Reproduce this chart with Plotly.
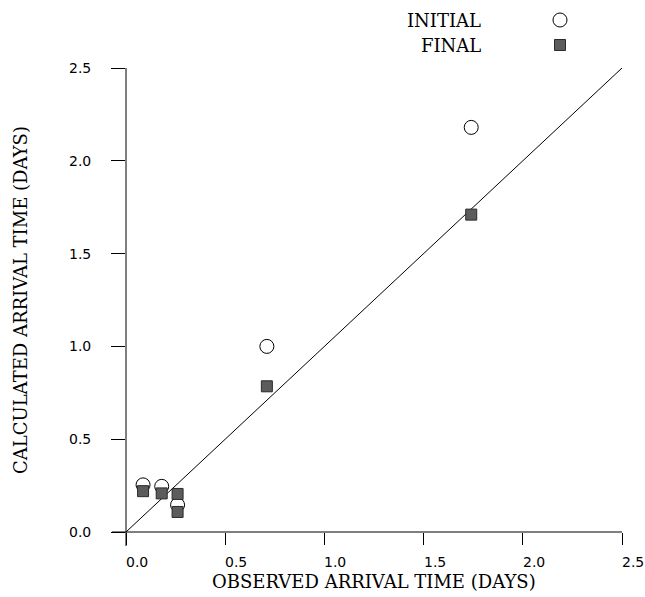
import plotly.graph_objects as go

# Observed vs calculated arrival times (days)
obs_initial = [0.086, 0.18, 0.26, 0.71, 1.74]
calc_initial = [0.254, 0.246, 0.146, 1.00, 2.18]

obs_final = [0.086, 0.18, 0.26, 0.26, 0.71, 1.74]
calc_final = [0.220, 0.208, 0.205, 0.108, 0.785, 1.71]

tick_vals = [0.0, 0.5, 1.0, 1.5, 2.0, 2.5]
tick_text = ["0.0", "0.5", "1.0", "1.5", "2.0", "2.5"]

serif = "DejaVu Serif"
title_font = dict(family=serif, size=18, color="black")
tick_font = dict(family="DejaVu Sans", size=14, color="black")
square_fill = "#5c5c5c"
square_edge = "#2a2a2a"

fig = go.Figure()

# 1:1 reference line
fig.add_trace(go.Scatter(x=[0, 2.5], y=[0, 2.5], mode="lines",
                         line=dict(color="black", width=1), hoverinfo="skip",
                         showlegend=False))

fig.add_trace(go.Scatter(x=obs_initial, y=calc_initial, mode="markers",
                         marker=dict(symbol="circle-open", size=14,
                                     line=dict(color="black", width=1), color="black"),
                         name="INITIAL", showlegend=False))

fig.add_trace(go.Scatter(x=obs_final, y=calc_final, mode="markers",
                         marker=dict(symbol="square", size=11, color=square_fill,
                                     line=dict(color=square_edge, width=1)),
                         name="FINAL", showlegend=False))

W, H = 645, 597
ml, mr, mt, mb = 126, 23, 68, 65
pw, ph = W - ml - mr, H - mt - mb

def px_x(px):
    return (px - ml) / pw

def px_y(py):
    return 1 + (mt - py) / ph

# axis lines, extended a little beyond the origin
ext_x = 14 / pw
ext_y = 14 / ph
shapes = [
    dict(type="line", xref="paper", yref="paper", x0=-ext_x, x1=1, y0=0, y1=0,
         line=dict(color="black", width=1)),
    dict(type="line", xref="paper", yref="paper", x0=0, x1=0, y0=-ext_y, y1=1,
         line=dict(color="black", width=1)),
    # key symbols
    dict(type="circle", xref="paper", yref="paper", xsizemode="pixel", ysizemode="pixel",
         xanchor=px_x(560), yanchor=px_y(20), x0=-7, x1=7, y0=-7, y1=7,
         line=dict(color="black", width=1), fillcolor="white"),
    dict(type="rect", xref="paper", yref="paper", xsizemode="pixel", ysizemode="pixel",
         xanchor=px_x(560), yanchor=px_y(45), x0=-5.5, x1=5.5, y0=-5.5, y1=5.5,
         line=dict(color=square_edge, width=1), fillcolor=square_fill),
]

annotations = [
    dict(text="INITIAL", xref="paper", yref="paper", x=px_x(483), y=px_y(20),
         xanchor="right", yanchor="middle", showarrow=False, font=title_font),
    dict(text="FINAL", xref="paper", yref="paper", x=px_x(483), y=px_y(45),
         xanchor="right", yanchor="middle", showarrow=False, font=title_font),
    dict(text="OBSERVED ARRIVAL TIME (DAYS)", xref="paper", yref="paper",
         x=0.5, y=px_y(581), xanchor="center", yanchor="middle",
         showarrow=False, font=title_font),
    dict(text="CALCULATED ARRIVAL TIME (DAYS)", xref="paper", yref="paper",
         x=px_x(20), y=0.5, xanchor="center", yanchor="middle", textangle=-90,
         showarrow=False, font=title_font),
]

# tick labels: x labels sit just right of their tick, y labels well left of theirs
for v, t in zip(tick_vals, tick_text):
    annotations.append(dict(text=t, xref="x", yref="paper", x=v, y=px_y(562),
                            xanchor="center", yanchor="middle", xshift=11,
                            showarrow=False, font=tick_font))
    annotations.append(dict(text=t, xref="paper", yref="y", x=px_x(93), y=v,
                            xanchor="right", yanchor="middle",
                            showarrow=False, font=tick_font))

fig.update_layout(
    width=W, height=H,
    margin=dict(l=ml, r=mr, t=mt, b=mb),
    plot_bgcolor="white", paper_bgcolor="white",
    shapes=shapes, annotations=annotations,
    xaxis=dict(range=[0, 2.5], tickvals=tick_vals, showticklabels=False,
               ticks="outside", ticklen=12, tickwidth=1, tickcolor="black",
               showline=False, showgrid=False, zeroline=False, automargin=False),
    yaxis=dict(range=[0, 2.5], tickvals=tick_vals, showticklabels=False,
               ticks="outside", ticklen=14, tickwidth=1, tickcolor="black",
               showline=False, showgrid=False, zeroline=False, automargin=False),
)

fig.write_html("out.html")
